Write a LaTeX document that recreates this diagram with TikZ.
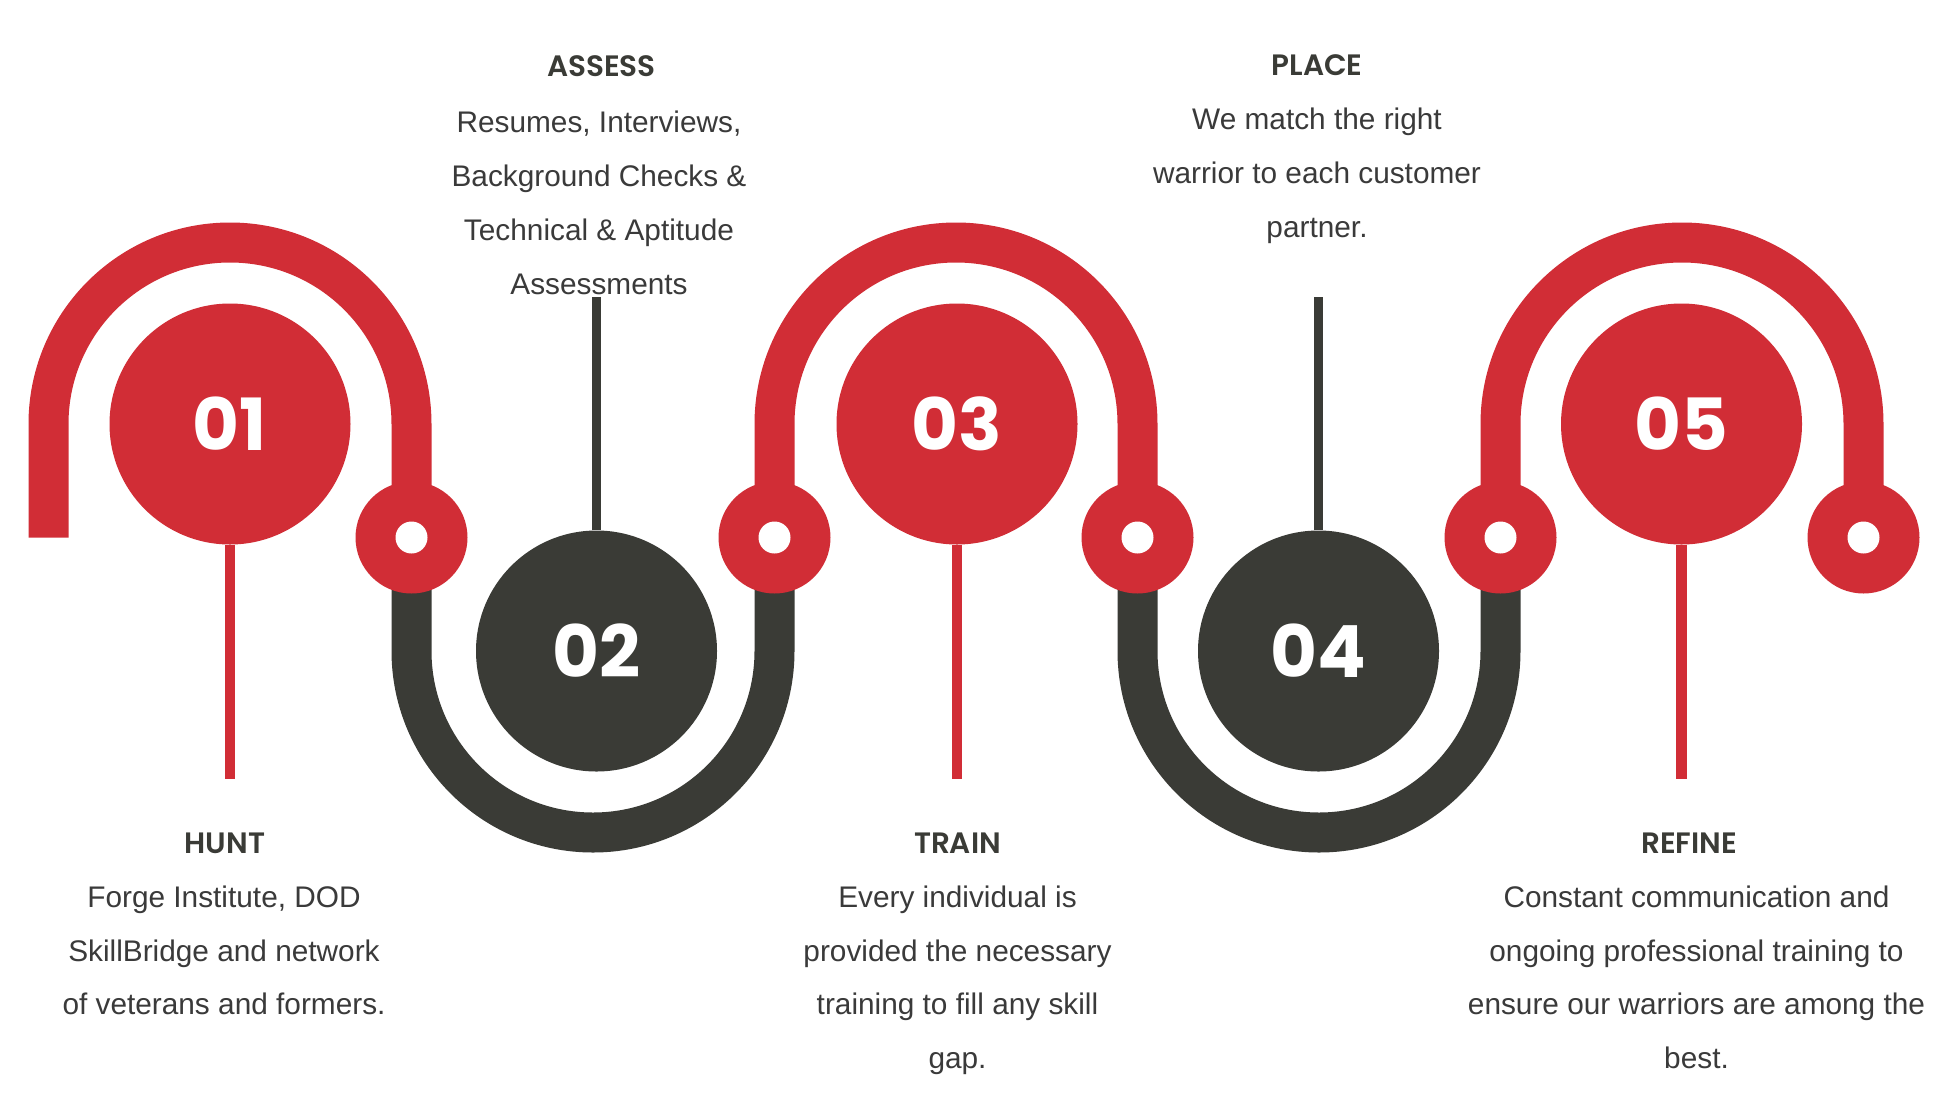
\documentclass[tikz,border=0pt]{standalone}
\usepackage{fontspec}
\setmainfont{Liberation Sans}
\newfontfamily\popfont{Poppins}
\newfontfamily\popsemi{Poppins SemiBold}
\definecolor{brandred}{HTML}{D12D36}
\definecolor{brandgray}{HTML}{3A3B36}
\definecolor{txtgray}{HTML}{3A3A3A}
\begin{document}
\begin{tikzpicture}[x=1pt,y=-1pt,
  redtrack/.style={draw=brandred, line width=40pt},
  graytrack/.style={draw=brandgray, line width=40pt},
  bigcirc/.style={circle, minimum size=241pt, inner sep=0pt, text=white,
    font=\popfont\bfseries\fontsize{72}{72}\selectfont},
  redbig/.style={bigcirc, fill=brandred},
  graybig/.style={bigcirc, fill=brandgray},
  ringout/.style={circle, fill=brandred, minimum size=112pt, inner sep=0pt},
  ringhole/.style={circle, fill=white, minimum size=32pt, inner sep=0pt},
  redstem/.style={draw=brandred, line width=10.5pt},
  graystem/.style={draw=brandgray, line width=8.5pt},
  headtxt/.style={anchor=base, text=brandgray, inner sep=0pt,
    font=\popsemi\fontsize{29.5}{30}\selectfont},
  bodytxt/.style={anchor=base, text=txtgray, inner sep=0pt,
    font=\fontsize{29.8}{30}\selectfont}]
\fill[white] (0,0) rectangle (1952,1096);
\useasboundingbox (0,0) rectangle (1952,1096);

% ring centres and free end
\coordinate (s0) at (48.5,537.5);
\coordinate (k1) at (411.5,537.5);
\coordinate (k2) at (774.5,537.5);
\coordinate (k3) at (1137.5,537.5);
\coordinate (k4) at (1500.5,537.5);
\coordinate (k5) at (1863.5,537.5);

% track
\draw[redtrack] (s0) -- ++(0,-113.5) arc[start angle=180,end angle=0,radius=181.5pt] -- (k1);
\draw[graytrack] (k1) -- ++(0,113.5) arc[start angle=180,end angle=360,radius=181.5pt] -- (k2);
\draw[redtrack] (k2) -- ++(0,-113.5) arc[start angle=180,end angle=0,radius=181.5pt] -- (k3);
\draw[graytrack] (k3) -- ++(0,113.5) arc[start angle=180,end angle=360,radius=181.5pt] -- (k4);
\draw[redtrack] (k4) -- ++(0,-113.5) arc[start angle=180,end angle=0,radius=181.5pt] -- (k5);

% rings
\foreach \i in {1,...,5}{
  \node[ringout] (ro\i) at (k\i) {};
  \node[ringhole] (rh\i) at (k\i) {};
}

% big circles
\node[redbig]  (c1) at (230,424)    {01};
\node[graybig] (c2) at (596.5,651)  {02};
\node[redbig]  (c3) at (957,424)    {03};
\node[graybig] (c4) at (1318.5,651) {04};
\node[redbig]  (c5) at (1681.5,424) {05};

% stems
\coordinate (l1) at (230,779);
\coordinate (l3) at (957,779);
\coordinate (l5) at (1681.5,779);
\coordinate (u2) at (596.5,297);
\coordinate (u4) at (1318.5,297);
\draw[redstem] (c1.south) -- (l1);
\draw[redstem] (c3.south) -- (l3);
\draw[redstem] (c5.south) -- (l5);
\draw[graystem] (c2.north) -- (u2);
\draw[graystem] (c4.north) -- (u4);

% ASSESS
\node[headtxt] (h2) at (601.5,76) {ASSESS};
\node[bodytxt] (b2a) at (599,132) {Resumes, Interviews,};
\node[bodytxt] (b2b) at (599,186) {Background Checks \&};
\node[bodytxt] (b2c) at (599,240) {Technical \& Aptitude};
\node[bodytxt] (b2d) at (599,294) {Assessments};

% PLACE
\node[headtxt] (h4) at (1317,75) {PLACE};
\node[bodytxt] (b4a) at (1317,129) {We match the right};
\node[bodytxt] (b4b) at (1317,183) {warrior to each customer};
\node[bodytxt] (b4c) at (1317,237) {partner.};

% HUNT
\node[headtxt] (h1) at (225,853) {HUNT};
\node[bodytxt] (b1a) at (224,907) {Forge Institute, DOD};
\node[bodytxt] (b1b) at (224,961) {SkillBridge and network};
\node[bodytxt] (b1c) at (224,1014) {of veterans and formers.};

% TRAIN
\node[headtxt] (h3) at (957.5,853) {TRAIN};
\node[bodytxt] (b3a) at (957.5,907) {Every individual is};
\node[bodytxt] (b3b) at (957.5,961) {provided the necessary};
\node[bodytxt] (b3c) at (957.5,1014) {training to fill any skill};
\node[bodytxt] (b3d) at (957.5,1068) {gap.};

% REFINE
\node[headtxt] (h5) at (1689,853) {REFINE};
\node[bodytxt] (b5a) at (1696.5,907) {Constant communication and};
\node[bodytxt] (b5b) at (1696.5,961) {ongoing professional training to};
\node[bodytxt] (b5c) at (1696.5,1014) {ensure our warriors are among the};
\node[bodytxt] (b5d) at (1696.5,1068) {best.};
\end{tikzpicture}
\end{document}
